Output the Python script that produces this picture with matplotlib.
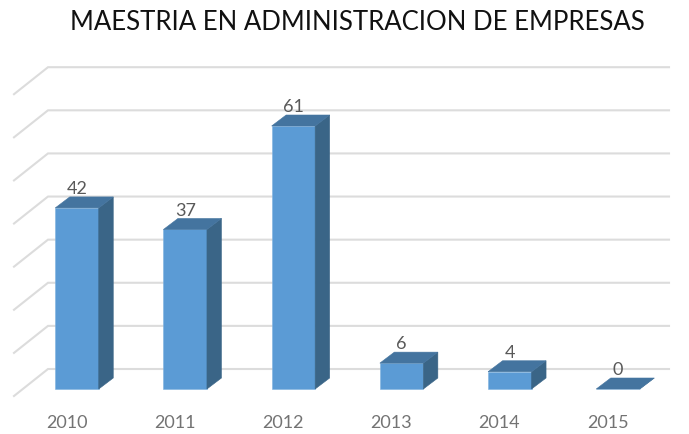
import numpy as np
import matplotlib
matplotlib.use('Agg')
import matplotlib.pyplot as plt
from matplotlib.patches import Polygon

plt.rcParams['font.family'] = ['Lato', 'DejaVu Sans']

years = ['2010', '2011', '2012', '2013', '2014', '2015']
values = [42, 37, 61, 6, 4, 0]
grid_values = [0, 10, 20, 30, 40, 50, 60, 70]
title = 'MAESTRIA EN ADMINISTRACION DE EMPRESAS'

W, H = 689, 435
px_x = 108.2      # pixels per category
px_y = 263 / 61   # pixels per value unit
x0 = 77           # pixel x of first bar centre
y0 = 390          # pixel y of value 0 at the bar front

fig = plt.figure(figsize=(W / 100, H / 100), dpi=100)
ax = fig.add_axes([0, 0, 1, 1])
ax.set_xlim(-x0 / px_x, (W - x0) / px_x)
ax.set_ylim((y0 - H) / px_y, y0 / px_y)
ax.axis('off')

# depth offsets, converted to data units
bar_w = 43.5 / px_x
dx = 14.5 / px_x
dy = 11 / px_y
wall_dx = 34 / px_x
wall_dy = 27 / px_y
wall_left = (14 - x0) / px_x
wall_right = (669 - x0) / px_x
back_shift = 20 / px_y  # back wall zero sits above the bar base

for v in grid_values:
    yb = v + back_shift
    ax.plot([wall_left, wall_left + wall_dx, wall_right], [yb - wall_dy, yb, yb],
            color='#dcdcdc', lw=1.5, zorder=1, solid_joinstyle='miter')

for i, v in enumerate(values):
    l = i - bar_w / 2
    r = i + bar_w / 2
    ax.add_patch(Polygon([(l, 0), (r, 0), (r, v), (l, v)], fc='#5b9bd5', ec='#7fb2e0', lw=0.4, zorder=3))
    ax.add_patch(Polygon([(r, 0), (r + dx, dy), (r + dx, v + dy), (r, v)], fc='#3a6587', ec='#3a6587', lw=0.4, zorder=3))
    ax.add_patch(Polygon([(l, v), (r, v), (r + dx, v + dy), (l + dx, v + dy)], fc='#44749f', ec='#44749f', lw=0.4, zorder=4))
    ax.annotate(str(v), (i, v + dy), xytext=(0, 0.5), textcoords='offset points', ha='center', va='bottom',
                fontsize=13, color='#595959', zorder=5)
    ax.annotate(years[i], (i, 0), xytext=(-7.5, -23.5), textcoords='offset points', ha='center', va='center',
                fontsize=13, color='#737373', zorder=5)

ax.text(0.5185, 0.948, title, transform=ax.transAxes, ha='center', va='center', fontsize=18.5, color='#111111')

fig.savefig('out.png', dpi=100)
